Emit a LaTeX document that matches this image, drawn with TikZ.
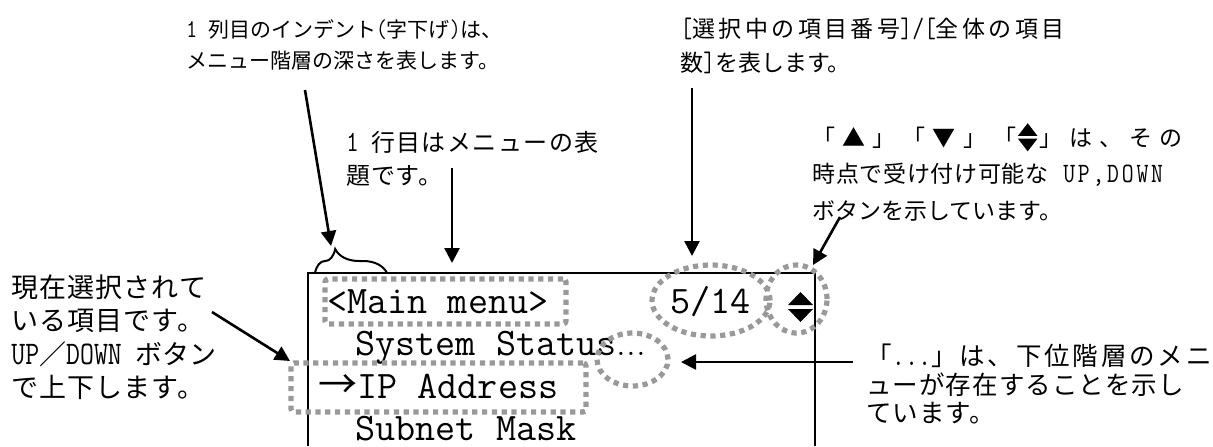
\documentclass[tikz,border=0pt]{standalone}
\usepackage{fontspec}
\newfontfamily\jp{Noto Sans CJK JP}
\newfontfamily\jtt{Latin Modern Mono}[Scale=1.22,FakeStretch=0.82]
\usetikzlibrary{arrows.meta,decorations.pathreplacing,shapes.geometric}
\definecolor{dotgray}{HTML}{999999}
\newcommand\udsym{\hspace{0.075em}\tikz[baseline=0pt]{\fill (0,0.44em) -- (0.85em,0.44em) -- (0.425em,0.99em) -- cycle; \fill (0,0.32em) -- (0.85em,0.32em) -- (0.425em,-0.23em) -- cycle;}\hspace{0.075em}}
\newcommand\tls[1]{\addfontfeature{LetterSpace=#1}}
\tikzset{
  arr/.style={line width=1.3pt,-{Triangle[length=7.5pt,width=7.5pt]}},
  dotline/.style={draw=dotgray,line width=2.6pt,dash pattern=on 2.6pt off 2.3pt,inner sep=0pt},
  frame/.style={line width=1pt},
  mono/.style={inner sep=0pt,anchor=base west,font=\fontsize{19.5pt}{19.5pt}\selectfont\ttfamily},
  ann/.style={inner sep=0pt,anchor=base west,font=\jp\fontsize{#1}{#1}\selectfont},
}
\begin{document}
\begin{tikzpicture}[x=0.5pt,y=-0.5pt]
\useasboundingbox (0,0) rectangle (1213,446);
% screen frame (open at bottom)
\draw[frame] (308,446) -- (308,273) -- (815,273) -- (815,446);
% screen text
\node[mono] (t1) at (327,313) {<Main menu>};
\node[mono] (t5) at (670,313) {5/14};
\node[mono] (t2) at (355,355) {System Status{\rmfamily...}};
\node[mono] (t3) at (318,398) {{\jp →}IP Address};
\node[mono] (t4) at (355,440) {Subnet Mask};
\fill (788,305) -- (813,305) -- (800.5,292) -- cycle;
\fill (788,309) -- (813,309) -- (800.5,322) -- cycle;
% dotted highlights
\node[dotline,rectangle,rounded corners=1.5pt,minimum width=120.5pt,minimum height=22.5pt] (r1) at (445.5,301.5) {};
\node[dotline,ellipse,minimum width=59pt,minimum height=35.5pt] (e1) at (711,300.5) {};
\node[dotline,ellipse,minimum width=30.5pt,minimum height=34pt] (e2) at (796.5,299) {};
\node[dotline,ellipse,minimum width=35.5pt,minimum height=26.5pt] (e3) at (632.5,359.5) {};
\node[dotline,rectangle,rounded corners=1.5pt,minimum width=147.5pt,minimum height=24.5pt] (r2) at (438.5,387.5) {};
% brace
\draw[frame,decorate,decoration={brace,amplitude=12pt,aspect=0.28}] (315,273) -- (387,273);
% annotations
\node[ann=10.5pt] (a1a) at (186,37) {{\jtt 1 }列目のインデント{\jtt (}字下げ{\jtt )}は、};
\node[ann=10.5pt] (a1b) at (186,68) {メニュー階層の深さを表します。};
\node[ann=12pt] (a2a) at (346,151) {\tls{6}{\jtt 1 }行目はメニューの表};
\node[ann=12pt] (a2b) at (346,184) {\tls{3}題です。};
\node[ann=11.5pt] (a3a) at (680,37) {\tls{15}{\jtt[}選択中の項目番号{\jtt]/[}全体の項目};
\node[ann=11.5pt] (a3b) at (680,71) {数{\jtt]}を表します。};
\node[ann=11.5pt] (a4a) at (812,146) {\tls{31}「▲」「▼」「\udsym」は、その};
\node[ann=11.5pt] (a4b) at (812,182) {\tls{3}時点で受け付け可能な{\jtt\tls{10}\ UP,DOWN}};
\node[ann=11.5pt] (a4c) at (812,219) {ボタンを示しています。};
\node[ann=12.75pt] (a5a) at (866,365.5) {\tls{11}「{\jtt...}」は、下位階層のメニ};
\node[ann=12.75pt] (a5b) at (866,394.5) {\tls{4}ューが存在することを示し};
\node[ann=12.75pt] (a5c) at (866,422.5) {\tls{4}ています。};
\node[ann=13.5pt] (a6a) at (11,297) {\tls{4}現在選択されて};
\node[ann=13.5pt] (a6b) at (11,330) {\tls{4}いる項目です。};
\node[ann=13.5pt] (a6c) at (11,364) {{\jtt UP}／{\jtt DOWN }ボタン};
\node[ann=13.5pt] (a6d) at (11,397) {\tls{4}で上下します。};
% arrow end points
\coordinate (a1s) at (305,90);  \coordinate (a1e) at (331,246);
\coordinate (a2s) at (452,168); \coordinate (a2e) at (452,263);
\coordinate (a3s) at (692,88);  \coordinate (a3e) at (692,256);
\coordinate (a4s) at (840,217); \coordinate (a4e) at (813,265);
\coordinate (a5s) at (853,362); \coordinate (a5e) at (681,362);
\coordinate (a6s) at (212,312); \coordinate (a6e) at (290,361);
\draw[arr] (a1s) -- (a1e);
\draw[arr] (a2s) -- (a2e);
\draw[arr] (a3s) -- (a3e);
\draw[arr] (a4s) -- (a4e);
\draw[arr] (a5s) -- (a5e);
\draw[arr] (a6s) -- (a6e);
\end{tikzpicture}
\end{document}
